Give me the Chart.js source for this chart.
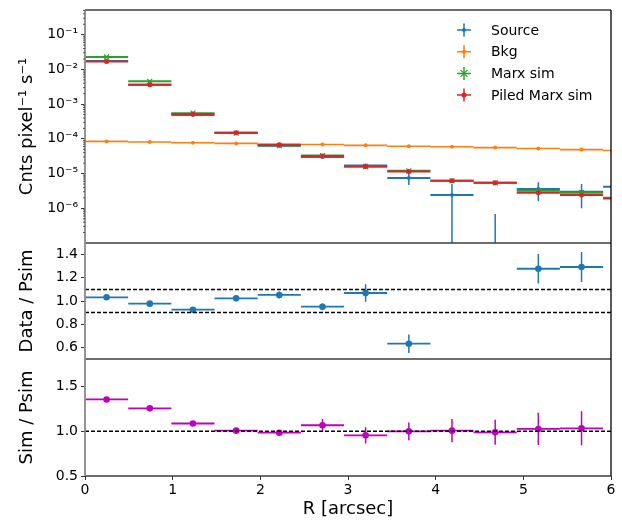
<!DOCTYPE html>
<html>
<head>
<meta charset="utf-8">
<script src="https://cdn.jsdelivr.net/npm/chart.js@4.4.0/dist/chart.umd.min.js"></script>
<style>
html, body { margin: 0; padding: 0; background: #fff; }
#wrap { position: relative; width: 622px; height: 521px; }
canvas { position: absolute; left: 0; }
</style>
</head>
<body>
<div id="wrap">
  <canvas id="c1" width="622" height="243" style="top:0px"></canvas>
  <canvas id="c2" width="622" height="116" style="top:243px"></canvas>
  <canvas id="c3" width="622" height="162" style="top:359px"></canvas>
</div>
<script>
// bins (arcsec)
var binR = [0.246, 0.739, 1.231, 1.724, 2.216, 2.709, 3.201, 3.694, 4.186, 4.679, 5.171, 5.664, 6.156];
var binHalf = 0.246;

// top panel : counts / pixel / s
var srcVal = [1.75e-2, 3.6e-3, 4.9e-4, 1.5e-4, 6.3e-5, 3.0e-5, 1.7e-5, 7.4e-6, 2.4e-6, -1.0e-6, 3.6e-6, 3.0e-6, 4.2e-6];
var srcErr = [3e-4, 8e-5, 1.5e-5, 6e-6, 3e-6, 2e-6, 1.5e-6, 2.7e-6, 2.6e-6, 1.68e-6, 2.0e-6, 2.0e-6, 1.5e-6];
var bkgVal = [8.45e-5, 8.1e-5, 7.7e-5, 7.4e-5, 7.1e-5, 6.9e-5, 6.5e-5, 6.1e-5, 5.9e-5, 5.6e-5, 5.3e-5, 4.9e-5, 4.6e-5];
var bkgErr = [1.5e-6, 1.5e-6, 1.5e-6, 1.5e-6, 1.5e-6, 1.5e-6, 1.5e-6, 1.5e-6, 1.5e-6, 1.5e-6, 1.5e-6, 1.5e-6, 1.5e-6];
var marxVal = [2.28e-2, 4.54e-3, 5.5e-4, 1.47e-4, 6.4e-5, 3.3e-5, 1.6e-5, 1.2e-5, 6.2e-6, 5.4e-6, 3.2e-6, 2.8e-6, 2.0e-6];
var marxErr = [1e-4, 3e-5, 6e-6, 2e-6, 1e-6, 6e-7, 4e-7, 3e-7, 2e-7, 2e-7, 2e-7, 2e-7, 2e-7];
var piledVal = [1.7e-2, 3.63e-3, 5.2e-4, 1.5e-4, 6.7e-5, 3.2e-5, 1.6e-5, 1.15e-5, 6.2e-6, 5.4e-6, 2.8e-6, 2.4e-6, 1.9e-6];
var piledErr = [1e-4, 3e-5, 6e-6, 2e-6, 1e-6, 6e-7, 4e-7, 3e-7, 2e-7, 2e-7, 2e-7, 2e-7, 2e-7];

// ratio panels
var dataRatio = [1.032, 0.977, 0.925, 1.023, 1.052, 0.951, 1.069, 0.632, null, null, 1.278, 1.293, null];
var dataRatioErr = [0.01, 0.01, 0.01, 0.02, 0.03, 0.03, 0.075, 0.08, 0, 0, 0.128, 0.13, 0];
var simRatio = [1.357, 1.258, 1.088, 1.008, 0.985, 1.068, 0.955, 1.0, 1.008, 0.989, 1.027, 1.034, null];
var simRatioErr = [0.01, 0.01, 0.015, 0.02, 0.03, 0.07, 0.09, 0.10, 0.13, 0.14, 0.18, 0.19, 0];

var logTicks = [1e-6, 1e-5, 1e-4, 1e-3, 1e-2, 1e-1];
var midTicks = [0.6, 0.8, 1.0, 1.2, 1.4];
var lowTicks = [0.5, 1.0, 1.5];
var xTicks = [0, 1, 2, 3, 4, 5, 6];
var dataBand = [0.9, 1.1];
var simLine = [1.0];

var seriesNames = ["Source", "Bkg", "Marx sim", "Piled Marx sim"];
var seriesColors = ["#1f77b4", "#ff7f0e", "#2ca02c", "#d62728"];
var magenta = "#bf00bf";

Chart.defaults.font.family = "'DejaVu Sans', sans-serif";
Chart.defaults.color = "#000";

function hbars(vals) {
  var d = [];
  for (var i = 0; i < vals.length; i++) {
    if (vals[i] === null) continue;
    d.push({x: binR[i] - binHalf, y: vals[i]}, {x: binR[i] + binHalf, y: vals[i]}, {x: binR[i] + binHalf, y: null});
  }
  return d;
}
function vbars(vals, errs, floor) {
  var d = [];
  for (var i = 0; i < vals.length; i++) {
    if (vals[i] === null || !errs[i]) continue;
    var lo = vals[i] - errs[i];
    if (floor && lo < floor) lo = floor;
    d.push({x: binR[i], y: lo}, {x: binR[i], y: vals[i] + errs[i]}, {x: binR[i], y: null});
  }
  return d;
}
function marks(vals) {
  var d = [];
  for (var i = 0; i < vals.length; i++) {
    if (vals[i] === null) continue;
    d.push({x: binR[i], y: vals[i]});
  }
  return d;
}
function series(vals, errs, color, style, radius, width, floor) {
  return [
    {data: hbars(vals), showLine: true, borderColor: color, borderWidth: width, pointRadius: 0, spanGaps: false, clip: 0},
    {data: vbars(vals, errs, floor), showLine: true, borderColor: color, borderWidth: 1.5, pointRadius: 0, spanGaps: false, clip: 0},
    {data: marks(vals), showLine: false, pointStyle: style, pointRadius: radius, borderWidth: style === 'crossRot' ? 1.2 : 0,
     backgroundColor: color, borderColor: color, clip: 0}
  ];
}
function hline(y, w) {
  return {data: [{x: 0, y: y}, {x: 6, y: y}], showLine: true, borderColor: "#000", borderWidth: w,
          borderDash: [4, 2], pointRadius: 0, clip: 0};
}
function sup(n) {
  var map = {'-': '\u207b', '0': '\u2070', '1': '\u00b9', '2': '\u00b2', '3': '\u00b3', '4': '\u2074',
             '5': '\u2075', '6': '\u2076', '7': '\u2077', '8': '\u2078', '9': '\u2079'};
  return String(n).split('').map(function (c) { return map[c]; }).join('');
}

var frame = {
  id: 'frame',
  afterDatasetsDraw: function (chart) {
    var a = chart.chartArea, c = chart.ctx;
    function ln(x0, y0, x1, y1) { c.beginPath(); c.moveTo(x0, y0); c.lineTo(x1, y1); c.stroke(); }
    c.save();
    c.lineWidth = 1.3;
    c.strokeStyle = "#3c3c3c";
    ln(a.left, a.top, a.right, a.top);
    ln(a.left, a.bottom, a.right, a.bottom);
    c.strokeStyle = "#000";
    ln(a.right, a.top, a.right, a.bottom);
    c.strokeStyle = "#8a8a8a";
    c.lineWidth = 1.8;
    ln(a.left, a.top, a.left, a.bottom);
    c.restore();
  }
};

var minorTicks = {
  id: 'minorTicks',
  afterDraw: function (chart) {
    var s = chart.scales.y, a = chart.chartArea, c = chart.ctx;
    c.save();
    c.strokeStyle = "#333";
    c.lineWidth = 0.8;
    for (var e = -8; e <= 0; e++) {
      for (var m = 2; m <= 9; m++) {
        var v = m * Math.pow(10, e);
        if (v < s.min || v > s.max) continue;
        var y = s.getPixelForValue(v);
        c.beginPath(); c.moveTo(a.left - 2, y); c.lineTo(a.left, y); c.stroke();
      }
    }
    c.restore();
  }
};

var errLegend = {
  id: 'errLegend',
  afterDraw: function (chart) {
    var c = chart.ctx;
    c.save();
    c.font = "14px 'DejaVu Sans'";
    c.textBaseline = "middle";
    for (var i = 0; i < seriesNames.length; i++) {
      var x = 464, y = 30 + i * 21.7, col = seriesColors[i];
      c.strokeStyle = col; c.fillStyle = col; c.lineWidth = 1.5;
      c.beginPath(); c.moveTo(x - 7, y); c.lineTo(x + 7, y); c.moveTo(x, y - 6.5); c.lineTo(x, y + 6.5); c.stroke();
      if (i === 2) {
        c.lineWidth = 1.2;
        c.beginPath(); c.moveTo(x - 3.5, y - 3.5); c.lineTo(x + 3.5, y + 3.5); c.moveTo(x + 3.5, y - 3.5); c.lineTo(x - 3.5, y + 3.5); c.stroke();
      } else {
        c.beginPath(); c.arc(x, y, i === 3 ? 2.5 : 2, 0, Math.PI * 2); c.fill();
      }
      c.fillStyle = "#000";
      c.fillText(seriesNames[i], 491, y + 1);
    }
    c.restore();
  }
};

function yAxis(extra) {
  var ax = {
    bounds: 'data',
    grid: {display: true, drawOnChartArea: false, drawTicks: true, tickLength: 4, tickColor: "#333", tickWidth: 1},
    border: {display: false},
    ticks: {font: {size: 14}, padding: 3, autoSkip: false, color: "#000"},
    title: {display: true, font: {size: 18}, padding: {top: 17, bottom: 0}, color: "#000"},
    afterFit: function (s) { s.width = 85; s.paddingTop = 0; s.paddingBottom = 0; }
  };
  for (var k in extra) {
    if (typeof extra[k] === 'object' && ax[k] && !Array.isArray(extra[k])) {
      for (var j in extra[k]) ax[k][j] = extra[k][j];
    } else ax[k] = extra[k];
  }
  return ax;
}
function xHidden() {
  return {type: 'linear', min: 0, max: 6, display: false};
}
function opts(pad, y, x) {
  return {
    responsive: false, animation: false, events: [],
    layout: {padding: pad, autoPadding: false},
    plugins: {legend: {display: false}, tooltip: {enabled: false}},
    scales: {x: x, y: y}
  };
}

// top panel
var top1 = []
  .concat(series(srcVal, srcErr, seriesColors[0], 'circle', 2, 2, 1e-9))
  .concat(series(bkgVal, bkgErr, seriesColors[1], 'circle', 2, 1.6, 1e-9))
  .concat(series(marxVal, marxErr, seriesColors[2], 'crossRot', 3.5, 2, 1e-9))
  .concat(series(piledVal, piledErr, seriesColors[3], 'circle', 2.5, 2, 1e-9));
new Chart(document.getElementById("c1"), {
  type: 'scatter',
  data: {datasets: top1.reverse()},
  options: opts({top: 10, right: 11, left: 0, bottom: 0},
    yAxis({
      type: 'logarithmic', min: 1e-7, max: 0.515,
      afterBuildTicks: function (s) { s.ticks = logTicks.map(function (v) { return {value: v}; }); },
      ticks: {callback: function (v) { return '10' + sup(Math.round(Math.log10(v))); }},
      title: {text: 'Cnts pixel\u207b\u00b9 s\u207b\u00b9'}
    }), xHidden()),
  plugins: [frame, minorTicks, errLegend]
});

// middle panel
var mid = [].concat(series(dataRatio, dataRatioErr, seriesColors[0], 'circle', 3.3, 1.8))
  .concat(dataBand.map(function (v) { return hline(v, 1.5); }));
new Chart(document.getElementById("c2"), {
  type: 'scatter',
  data: {datasets: mid.reverse()},
  options: opts({top: 0, right: 11, left: 0, bottom: 0},
    yAxis({
      type: 'linear', min: 0.5, max: 1.5,
      afterBuildTicks: function (s) { s.ticks = midTicks.map(function (v) { return {value: v}; }); },
      ticks: {callback: function (v) { return v.toFixed(1); }},
      title: {text: 'Data / Psim'}
    }), xHidden()),
  plugins: [frame]
});

// bottom panel
var low = [].concat(series(simRatio, simRatioErr, magenta, 'circle', 3.3, 1.8))
  .concat(simLine.map(function (v) { return hline(v, 1.5); }));
new Chart(document.getElementById("c3"), {
  type: 'scatter',
  data: {datasets: low.reverse()},
  options: opts({top: 0, right: 11, left: 0, bottom: 0},
    yAxis({
      type: 'linear', min: 0.5, max: 1.81,
      afterBuildTicks: function (s) { s.ticks = lowTicks.map(function (v) { return {value: v}; }); },
      ticks: {callback: function (v) { return v.toFixed(1); }},
      title: {text: 'Sim / Psim'}
    }),
    {
      type: 'linear', min: 0, max: 6, bounds: 'data',
      afterBuildTicks: function (s) { s.ticks = xTicks.map(function (v) { return {value: v}; }); },
      ticks: {font: {size: 14}, padding: 2, color: "#000", autoSkip: false, maxRotation: 0,
              callback: function (v) { return String(v); }},
      grid: {display: true, drawOnChartArea: false, drawTicks: true, tickLength: 4, tickColor: "#333"},
      border: {display: false},
      title: {display: true, text: 'R [arcsec]', font: {size: 18}, padding: {top: 0, bottom: 1}, color: "#000"},
      afterFit: function (s) { s.height = 45; s.paddingLeft = 0; s.paddingRight = 0; }
    }),
  plugins: [frame]
});
</script>
</body>
</html>
